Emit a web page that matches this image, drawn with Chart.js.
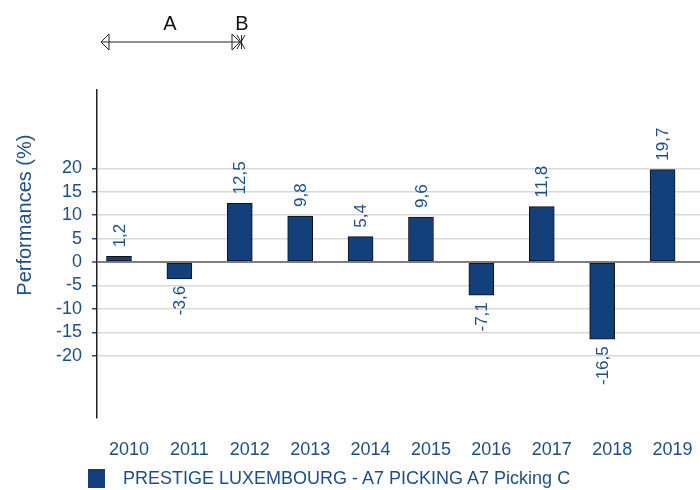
<!DOCTYPE html>
<html>
<head>
<meta charset="utf-8">
<script src="https://cdn.jsdelivr.net/npm/chart.js@4.4.1/dist/chart.umd.min.js"></script>
<style>
  html, body { margin: 0; padding: 0; background: #fff; }
  #wrap { position: relative; width: 700px; height: 490px; }
  #legend {
    position: absolute; left: 88px; top: 468px;
    font: 18px "Liberation Sans", Arial, sans-serif; color: #1d4e89;
    display: flex; align-items: center; white-space: nowrap;
  }
  #legend .box { display: inline-block; width: 17px; height: 19px; background: #133f7a; margin-right: 18px; }
</style>
</head>
<body>
<div id="wrap">
  <canvas id="perfChart" width="700" height="490"></canvas>
  <div id="legend"><span class="box"></span><span id="legendText"></span></div>
</div>
<script>
var years = ["2010", "2011", "2012", "2013", "2014", "2015", "2016", "2017", "2018", "2019"];
var performances = [1.2, -3.6, 12.5, 9.8, 5.4, 9.6, -7.1, 11.8, -16.5, 19.7];
var yTicks = [20, 15, 10, 5, 0, -5, -10, -15, -20];
var seriesName = "PRESTIGE LUXEMBOURG - A7 PICKING A7 Picking C";

var navy = "#133f7a";
var textBlue = "#1d4e89";
var fontName = '"Liberation Sans", Arial, sans-serif';

document.getElementById("legendText").textContent = seriesName;

// labels rotated above / below each bar
var valueLabels = {
    id: "valueLabels",
    afterDatasetsDraw: function (chart) {
        var ctx = chart.ctx;
        var meta = chart.getDatasetMeta(0);
        ctx.save();
        ctx.font = "17px " + fontName;
        ctx.fillStyle = textBlue;
        ctx.textBaseline = "middle";
        meta.data.forEach(function (bar, i) {
            var v = performances[i];
            var txt = v.toFixed(1).replace(".", ",");
            ctx.save();
            ctx.translate(bar.x + 1, bar.y + (v >= 0 ? -9 : 7));
            ctx.rotate(-Math.PI / 2);
            ctx.textAlign = v >= 0 ? "left" : "right";
            ctx.fillText(txt, 0, 0);
            ctx.restore();
        });
        ctx.restore();
    }
};

// y axis title, drawn by hand so it sits where the original one is
var yTitle = {
    id: "yTitle",
    afterDraw: function (chart) {
        var ctx = chart.ctx;
        var y = chart.scales.y;
        ctx.save();
        ctx.translate(25, y.getPixelForValue(10));
        ctx.rotate(-Math.PI / 2);
        ctx.font = "20px " + fontName;
        ctx.fillStyle = textBlue;
        ctx.textAlign = "center";
        ctx.textBaseline = "middle";
        ctx.fillText("Performances (%)", 0, 0);
        ctx.restore();
    }
};

// A / B period markers on top
var periodMarks = {
    id: "periodMarks",
    afterDraw: function (chart) {
        var ctx = chart.ctx;
        var yl = 42;
        ctx.save();
        ctx.strokeStyle = "#222";
        ctx.lineWidth = 1;
        ctx.beginPath();
        ctx.moveTo(101, yl);
        ctx.lineTo(240, yl);
        // left head
        ctx.moveTo(109, yl - 8);
        ctx.lineTo(101, yl);
        ctx.lineTo(109, yl + 8);
        ctx.closePath();
        // right head
        ctx.moveTo(232, yl - 8);
        ctx.lineTo(240, yl);
        ctx.lineTo(232, yl + 8);
        ctx.closePath();
        // B marker
        ctx.moveTo(237, yl - 7);
        ctx.lineTo(245, yl + 7);
        ctx.moveTo(237, yl + 7);
        ctx.lineTo(245, yl - 7);
        ctx.moveTo(241.5, yl - 7);
        ctx.lineTo(241.5, yl + 7);
        ctx.stroke();
        ctx.font = "20px " + fontName;
        ctx.fillStyle = "#111";
        ctx.textAlign = "center";
        ctx.textBaseline = "middle";
        ctx.fillText("A", 170, 24);
        ctx.fillText("B", 242, 24);
        ctx.restore();
    }
};

var ctx = document.getElementById("perfChart").getContext("2d");
var chart = new Chart(ctx, {
    type: "bar",
    data: {
        datasets: [
            {
                label: seriesName,
                backgroundColor: navy,
                borderColor: "#111",
                borderWidth: 1,
                borderSkipped: false,
                barThickness: 25,
                data: performances.map(function (v, i) { return { x: i, y: v }; }),
            },
        ],
    },
    options: {
        responsive: false,
        animation: false,
        layout: { padding: { top: 90, left: 0, right: 0, bottom: 0 } },
        plugins: {
            legend: { display: false },
            tooltip: { enabled: false },
        },
        scales: {
            x: {
                type: "linear",
                offset: false,
                min: -0.364,
                max: 9.62,
                grid: { display: false },
                border: { display: false },
                afterBuildTicks: function (scale) {
                    scale.ticks = years.map(function (y, i) { return { value: i }; });
                },
                afterFit: function (scale) { scale.height = 72; },
                ticks: {
                    includeBounds: false,
                    autoSkip: false,
                    maxRotation: 0,
                    padding: 13,
                    labelOffset: 10,
                    color: textBlue,
                    font: { family: fontName, size: 18 },
                    callback: function (value, index) { return years[index]; },
                },
            },
            y: {
                min: -33.3,
                max: 36.7,
                afterBuildTicks: function (scale) {
                    scale.ticks = yTicks.map(function (v) { return { value: v }; });
                },
                afterFit: function (scale) { scale.width = 97; },
                border: { display: true, color: "#222", width: 1.5 },
                grid: {
                    color: function (c) { return c.tick && c.tick.value === 0 ? "#7f7f7f" : "#d9d9d9"; },
                    lineWidth: function (c) { return c.tick && c.tick.value === 0 ? 2 : 1.5; },
                    tickColor: textBlue,
                    tickLength: 5,
                    tickWidth: 1.5,
                },
                ticks: {
                    includeBounds: false,
                    padding: 10,
                    color: textBlue,
                    font: { family: fontName, size: 18 },
                },
            },
        },
    },
    plugins: [valueLabels, yTitle, periodMarks],
});
</script>
</body>
</html>
